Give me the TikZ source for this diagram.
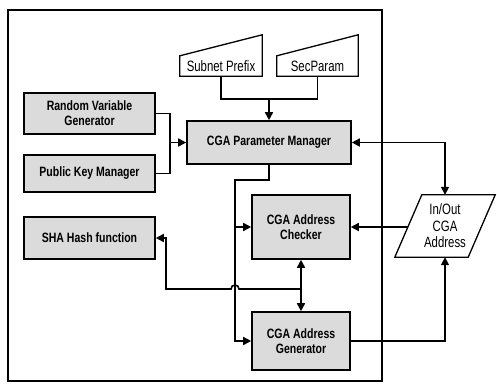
\documentclass[tikz,border=0pt]{standalone}
\usepackage{fontspec}
\setmainfont{Liberation Sans}
\newfontfamily\narrowsf[FakeStretch=0.76]{Liberation Sans}
\newfontfamily\narrowbf[FakeStretch=0.78]{Liberation Sans}
\usetikzlibrary{arrows.meta,calc}
\tikzset{
  graybox/.style={draw, line width=1.6pt, fill=gray!28, inner sep=0pt, align=center,
    font=\narrowbf\bfseries\fontsize{13.5}{15}\selectfont},
  inshape/.style={inner sep=0pt, align=center, font=\narrowsf\fontsize{15}{16.5}\selectfont},
  outline/.style={line width=1.3pt, line join=miter},
  link/.style={line width=1.6pt},
}
\begin{document}
\begin{tikzpicture}[x=1pt, y=-1pt, >={Triangle[length=8pt,width=8pt]}]
\useasboundingbox (0,0) rectangle (497,383);
\draw[line width=1.3pt] (8,10) rectangle (382,381);
% inputs on top
\node[inshape, minimum width=82pt, minimum height=20pt] (subnet) at (221,66) {Subnet Prefix};
\node[inshape, minimum width=81pt, minimum height=20pt] (secparam) at (317.5,66) {SecParam};
\draw[outline] (subnet.south west) -- (subnet.north west) -- ($(subnet.north east)+(0,-21)$) -- (subnet.south east) -- cycle;
\draw[outline] (secparam.south west) -- (secparam.north west) -- ($(secparam.north east)+(0,-21)$) -- (secparam.south east) -- cycle;
% boxes
\node[graybox, minimum width=131pt, minimum height=41pt] (rvg) at (89.5,113.5) {Random Variable\\Generator};
\node[graybox, minimum width=131pt, minimum height=37pt] (pkm) at (89.5,173.5) {Public Key Manager};
\node[graybox, minimum width=131pt, minimum height=42pt] (sha) at (89.5,238) {SHA Hash function};
\node[graybox, minimum width=164pt, minimum height=43pt] (cpm) at (269,142.5) {CGA Parameter Manager};
\node[graybox, minimum width=98pt, minimum height=64pt] (chk) at (301,227) {CGA Address\\Checker};
\node[graybox, minimum width=98pt, minimum height=58pt] (gen) at (301,341) {CGA Address\\Generator};
% in/out data
\node[inshape, minimum width=100pt, minimum height=62pt] (inout) at (445,226) {In/Out\\CGA\\Address};
\draw[outline] (inout.south west) -- ($(inout.north west)+(27,0)$) -- (inout.north east) -- ($(inout.south east)+(-27,0)$) -- cycle;
% connectors
\coordinate (rvgjoin) at (170,142.5);
\coordinate (bus) at (235,180);
\coordinate (hop) at (235,289);
\draw[link] (subnet.south) -- ++(0,23) -| (secparam.south);
\draw[link,->] ($(cpm.north)+(0,-22)$) -- (cpm.north);
\draw[link] (rvg.east) -| (rvgjoin) |- (pkm.east);
\draw[link,->] (rvgjoin) -- (cpm.west);
\draw[link,<->] (cpm.east) -| (inout.north);
\draw[link,->] ($(chk.east -| inout.west)+(13,0)$) -- (chk.east);
\draw[link,->] (gen.east) -| (inout.south);
\draw[link,->] (cpm.south) |- (bus) |- (gen.west);
\draw[link,->] (bus |- chk.west) -- (chk.west);
\draw[link,<->] (chk.south) -- (gen.north);
\draw[link,->] (chk.south |- hop) -- ($(hop)+(4,0)$) arc[start angle=0, end angle=-180, radius=4] -- ++(-65,0) |- (sha.east);
\end{tikzpicture}
\end{document}
